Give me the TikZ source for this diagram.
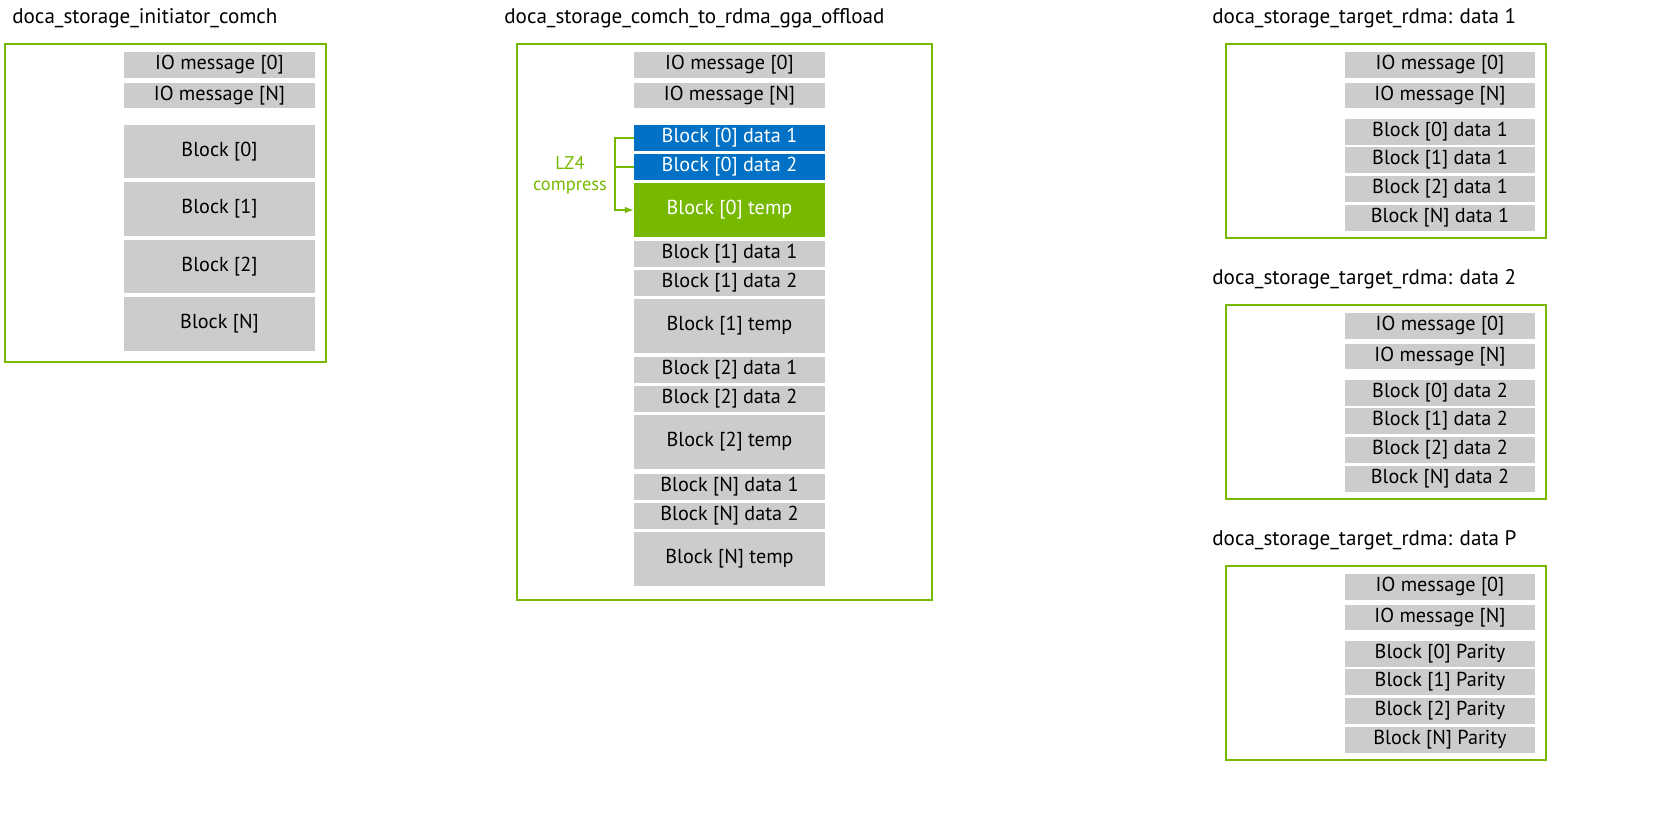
\documentclass[tikz,border=0pt]{standalone}
\usepackage{fontspec}
\setmainfont{PT Sans}
\usepackage{tikz}
\usetikzlibrary{arrows.meta}
\definecolor{nvgreen}{HTML}{76B900}
\definecolor{nvblue}{HTML}{0071C5}
\definecolor{cellgray}{HTML}{CCCCCC}
\tikzstyle{frame} = [draw=nvgreen, line width=1.2pt]
\tikzstyle{cell} = [fill=cellgray, inner sep=0pt, font=\fontsize{11.5}{13}\selectfont]
\tikzstyle{hot} = [cell, fill=nvblue, text=white]
\tikzstyle{temp} = [cell, fill=nvgreen, text=white]
\tikzstyle{title} = [anchor=west, inner sep=0pt, font=\fontsize{12}{14}\selectfont]
\tikzstyle{line} = [draw=nvgreen, line width=0.7pt, -{Latex[length=5pt]}]
% cell from pixel box: name, x1, y1, x2, y2, style, text
\newcommand{\cellbox}[7]{\node [#6, minimum width={((#4)-(#2))*0.02cm}, minimum height={((#5)-(#3))*0.02cm}]
    (#1) at ({((#2)+(#4))/2}, {((#3)+(#5))/2}) {#7};}
\begin{document}
\begin{tikzpicture}[x=0.02cm, y=-0.02cm]
    % initiator
    \node [title] (tinit) at (12,18) {doca\_storage\_initiator\_comch};
    \draw [frame] (5,44) rectangle (326,362);
    \cellbox{iio0}{124}{52}{315}{78}{cell}{IO message [0]}
    \cellbox{iioN}{124}{83}{315}{108}{cell}{IO message [N]}
    \cellbox{ib0}{124}{125}{315}{178}{cell}{Block [0]}
    \cellbox{ib1}{124}{182}{315}{236}{cell}{Block [1]}
    \cellbox{ib2}{124}{240}{315}{293}{cell}{Block [2]}
    \cellbox{ibN}{124}{297}{315}{351}{cell}{Block [N]}
    % offload
    \node [title] (toff) at (504,18) {doca\_storage\_comch\_to\_rdma\_gga\_offload};
    \draw [frame] (517,44) rectangle (932,600);
    \cellbox{oio0}{634}{52}{825}{78}{cell}{IO message [0]}
    \cellbox{oioN}{634}{83}{825}{108}{cell}{IO message [N]}
    \cellbox{o0a}{634}{125}{825}{151}{hot}{Block [0] data 1}
    \cellbox{o0b}{634}{154}{825}{180}{hot}{Block [0] data 2}
    \cellbox{o0t}{634}{183}{825}{237}{temp}{Block [0] temp}
    \foreach \b/\y in {1/241, 2/357, N/474} {
        \cellbox{o\b a}{634}{\y}{825}{\y+26}{cell}{Block [\b] data 1}
        \cellbox{o\b b}{634}{\y+29}{825}{\y+55}{cell}{Block [\b] data 2}
        \cellbox{o\b t}{634}{\y+58}{825}{\y+112}{cell}{Block [\b] temp}
    }
    \node [text=nvgreen, align=center, font=\fontsize{10.5}{12}\selectfont] (lz4) at (570,175) {LZ4\\compress};
    \coordinate (fork) at (615,138);
    \draw [draw=nvgreen, line width=0.7pt] (o0a.west) -- (fork) -- (fork |- o0b.west) -- (o0b.west);
    \path [line] (fork) |- (o0t.west);
    % targets
    \foreach \k/\d/\tail in {0/1/data 1, 261/2/data 2, 522/P/Parity} {
        \node [title] (tt\d) at (1212,18+\k) {doca\_storage\_target\_rdma: data \d};
        \draw [frame] (1226,44+\k) rectangle (1546,238+\k);
        \cellbox{t\d io0}{1345}{52+\k}{1535}{78+\k}{cell}{IO message [0]}
        \cellbox{t\d ioN}{1345}{83+\k}{1535}{108+\k}{cell}{IO message [N]}
        \foreach \b/\y in {0/119, 1/147, 2/176, N/205} {
            \cellbox{t\d b\b}{1345}{\y+\k}{1535}{\y+26+\k}{cell}{Block [\b] \tail}
        }
    }
    \pgfresetboundingbox
    \useasboundingbox (0,0) rectangle (1662,816);
\end{tikzpicture}
\end{document}
